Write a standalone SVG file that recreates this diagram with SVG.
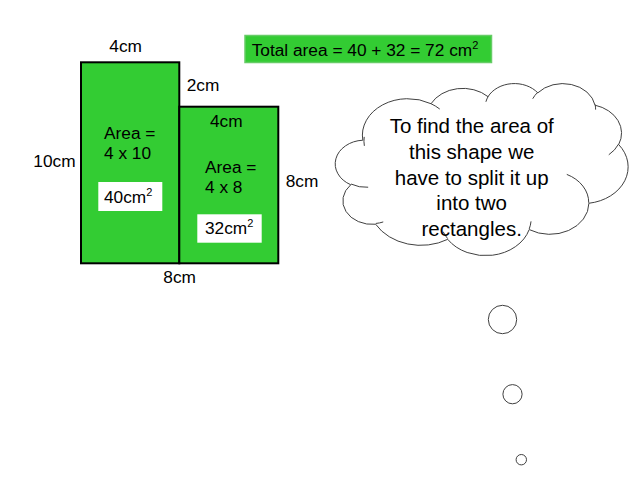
<svg xmlns="http://www.w3.org/2000/svg" width="640" height="480" viewBox="0 0 640 480">
<style>
.t{font-family:"Liberation Sans",Arial,sans-serif;font-size:17.3px;fill:#000}
.c{font-family:"Liberation Sans",Arial,sans-serif;font-size:20.5px;fill:#000;text-anchor:middle}
.sup{font-size:11px}
.rect{fill:#33cc33;stroke:#000;stroke-width:2}
.wb{fill:#fff;stroke:none}
.ol{fill:#fff;stroke:#404040;stroke-width:1;vector-effect:non-scaling-stroke}
.tl{fill:none;stroke:#404040;stroke-width:1;vector-effect:non-scaling-stroke}
</style>
<rect width="640" height="480" fill="#fff"/>
<g id="title">
<rect x="245" y="35.5" width="246.5" height="27" fill="#33cc33" stroke="#66cc66" stroke-width="1.5"/>
<text class="t" x="251.7" y="56">Total area = 40 + 32 = 72 cm<tspan class="sup" dy="-7">2</tspan></text>
</g>
<g id="rect-left">
<rect class="rect" x="81" y="62.3" width="98.3" height="201"/>
<text class="t" x="104" y="139.3">Area =</text>
<text class="t" x="104" y="159.3">4 x 10</text>
<rect class="wb" x="98.3" y="182" width="64" height="29"/>
<text class="t" x="104" y="202.7">40cm<tspan class="sup" dy="-7">2</tspan></text>
</g>
<g id="rect-right">
<rect class="rect" x="179.3" y="106.7" width="99" height="156.6"/>
<text class="t" x="210" y="126.7">4cm</text>
<text class="t" x="205" y="172.7">Area =</text>
<text class="t" x="205" y="193.3">4 x 8</text>
<rect class="wb" x="197.3" y="214.3" width="64.4" height="28.4"/>
<text class="t" x="205" y="234">32cm<tspan class="sup" dy="-7">2</tspan></text>
</g>
<g id="labels">
<text class="t" x="109.3" y="51.7">4cm</text>
<text class="t" x="186.7" y="90.7">2cm</text>
<text class="t" x="33.3" y="167.3">10cm</text>
<text class="t" x="285.7" y="186.7">8cm</text>
<text class="t" x="163.3" y="283.3">8cm</text>
</g>
<g id="cloud">
<g transform="translate(336.5 83) scale(0.0067477 0.0039815)">
<path class="ol" d="M 3900 14370 A 6753 9190 0 0 1 14005 5202 A 5333 7267 0 0 1 22455 3431 A 4365 5945 0 0 1 29831 2477 A 4857 6595 0 0 1 38316 5574 A 5333 7273 0 0 1 41816 15457 A 6775 9220 0 0 1 37404 30203 A 5785 7867 0 0 1 28556 36814 A 6752 9215 0 0 1 16481 39267 A 7720 10543 0 0 1 5805 35474 A 4360 5918 0 0 1 2114 25553 A 4345 5945 0 0 1 3900 14370 Z"/>
<path class="tl" d="M 4693 26177 A 4345 5945 0 0 1 2160 25380 M 6928 34899 A 4360 5918 0 0 1 5820 35280 M 16478 39090 A 6752 9215 0 0 1 15809 37348 M 28827 34751 A 6752 9215 0 0 1 28560 36660 M 34129 22954 A 5785 7867 0 0 1 37380 30090 M 41798 15354 A 5333 7273 0 0 1 40350 18030 M 38324 5426 A 4857 6595 0 0 1 38401 6690 M 29078 3952 A 4857 6595 0 0 1 29821 2337 M 22141 4720 A 4365 5945 0 0 1 22500 3331 M 14000 5192 A 6753 9190 0 0 1 15300 6540 M 4127 15789 A 6753 9190 0 0 1 4107 13535"/>
</g>
<text class="c" x="471.7" y="133.3">To find the area of</text>
<text class="c" x="471.7" y="159.3">this shape we</text>
<text class="c" x="471.7" y="184.8">have to split it up</text>
<text class="c" x="471.7" y="210.2">into two</text>
<text class="c" x="471.7" y="235.5">rectangles.</text>
</g>
<g id="bubbles" fill="#fff" stroke="#404040" stroke-width="1">
<circle cx="502.5" cy="319.5" r="14.2"/>
<circle cx="512.5" cy="394.2" r="9.6"/>
<circle cx="521.3" cy="459.7" r="5.2"/>
</g>
</svg>
